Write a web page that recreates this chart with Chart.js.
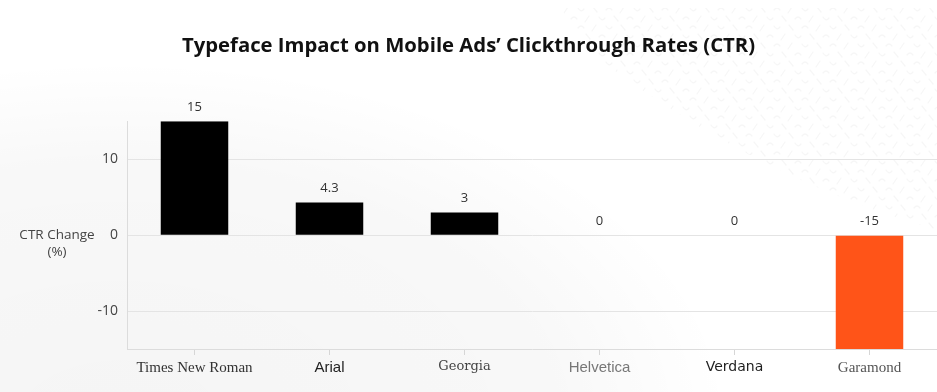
<!DOCTYPE html>
<html>
<head>
<meta charset="utf-8">
<style>
  html, body { margin: 0; padding: 0; background: #ffffff; }
  #wrap { width: 937px; height: 392px; position: relative; }
</style>
<script src="https://cdn.jsdelivr.net/npm/chart.js@4/dist/chart.umd.min.js"></script>
</head>
<body>
<div id="wrap"><canvas id="chart" width="937" height="392"></canvas></div>
<script>
// Typefaces tested and the change in clickthrough rate for each (%)
const typefaces = ['Times New Roman', 'Arial', 'Georgia', 'Helvetica', 'Verdana', 'Garamond'];
const ctrChange = [15, 4.3, 3, 0, 0, -15];
const valueLabels = ['15', '4.3', '3', '0', '0', '-15'];
const yTicks = [-10, 0, 10];

// Each category label is set in (a stand-in for) its own typeface
const labelFonts = [
  { family: '"Liberation Serif", serif', size: 15 },
  { family: '"Liberation Sans", sans-serif', size: 15 },
  { family: '"DejaVu Serif", serif', size: 13 },
  { family: '"Liberation Sans", sans-serif', size: 15 },
  { family: '"DejaVu Sans", sans-serif', size: 14 },
  { family: '"Liberation Serif", serif', size: 15 }
];
const labelColors = ['#333333', '#222222', '#444444', '#777777', '#1e1e1e', '#555555'];

const UI_FONT = '"Open Sans", Lato, sans-serif';

// Soft page decoration: a pale blob at the lower left and a squiggle texture at the top right
const backdrop = {
  id: 'backdrop',
  beforeDraw(chart) {
    const { ctx, width, height } = chart;
    ctx.save();
    ctx.fillStyle = '#ffffff';
    ctx.fillRect(0, 0, width, height);

    ctx.save();
    ctx.translate(120, 420);
    ctx.scale(1.7, 1);
    const g = ctx.createRadialGradient(0, 0, 20, 0, 0, 360);
    g.addColorStop(0, 'rgba(0,0,0,0.04)');
    g.addColorStop(0.7, 'rgba(0,0,0,0.028)');
    g.addColorStop(1, 'rgba(0,0,0,0)');
    ctx.fillStyle = g;
    ctx.fillRect(-400, -400, 800, 800);
    ctx.restore();

    ctx.beginPath();
    ctx.moveTo(560, 8);
    ctx.lineTo(width, 8);
    ctx.lineTo(width, 230);
    ctx.quadraticCurveTo(760, 180, 600, 60);
    ctx.closePath();
    ctx.clip();
    ctx.strokeStyle = 'rgba(0,0,0,0.035)';
    ctx.lineWidth = 1.3;
    ctx.lineCap = 'round';
    let row = 0;
    for (let y = 10; y < 240; y += 9, row++) {
      let col = 0;
      for (let x = 550 + (row % 2) * 7; x < width + 10; x += 14, col++) {
        const k = (row * 3 + col) % 4;
        ctx.beginPath();
        if (k === 0) { ctx.moveTo(x, y); ctx.quadraticCurveTo(x + 3, y - 4, x + 6, y); }
        else if (k === 1) { ctx.moveTo(x, y + 3); ctx.lineTo(x + 4, y - 3); }
        else if (k === 2) { ctx.moveTo(x, y - 2); ctx.quadraticCurveTo(x + 3, y + 3, x + 6, y - 1); }
        else { ctx.moveTo(x + 1, y - 3); ctx.lineTo(x + 5, y + 2); }
        ctx.stroke();
      }
    }
    ctx.restore();
  }
};

// Value printed above each bar, and the horizontal y-axis caption beside the zero line
const annotations = {
  id: 'annotations',
  afterDatasetsDraw(chart) {
    const { ctx } = chart;
    const meta = chart.getDatasetMeta(0);
    ctx.save();
    ctx.font = '13px ' + UI_FONT;
    ctx.fillStyle = '#333333';
    ctx.textAlign = 'center';
    ctx.textBaseline = 'middle';
    meta.data.forEach((bar, i) => {
      const top = Math.min(bar.y, bar.base);
      ctx.fillText(valueLabels[i], bar.x, top - 14);
    });

    const y0 = chart.scales.y.getPixelForValue(0);
    ctx.font = '13.5px ' + UI_FONT;
    ctx.fillStyle = '#444444';
    ctx.fillText('CTR Change', 57, y0);
    ctx.fillText('(%)', 57, y0 + 17);
    ctx.restore();
  }
};

new Chart(document.getElementById('chart'), {
  type: 'bar',
  data: {
    labels: typefaces,
    datasets: [{
      data: ctrChange,
      backgroundColor: ctrChange.map(v => v < 0 ? '#ff5418' : '#000000'),
      barPercentage: 0.5,
      categoryPercentage: 1.0
    }]
  },
  options: {
    responsive: false,
    animation: false,
    layout: { padding: { left: 0, right: 0, top: 0, bottom: 0 } },
    plugins: {
      legend: { display: false },
      tooltip: { enabled: false },
      title: {
        display: true,
        text: 'Typeface Impact on Mobile Ads’ Clickthrough Rates (CTR)',
        color: '#111111',
        font: { family: '"Open Sans", sans-serif', size: 20.3, weight: 'bold', lineHeight: 1.2 },
        padding: { top: 34, bottom: 63 }
      }
    },
    scales: {
      x: {
        grid: { display: true, offset: false, drawOnChartArea: false, drawTicks: true, tickLength: 6, color: '#d6d6d6' },
        border: { display: true, color: '#dcdcdc', width: 1 },
        ticks: {
          padding: 4,
          maxRotation: 0,
          autoSkip: false,
          color: ctx => labelColors[ctx.index],
          font: ctx => labelFonts[ctx.index]
        },
        afterFit(scale) { scale.height = 43; }
      },
      y: {
        min: -15,
        max: 15,
        afterBuildTicks(scale) { scale.ticks = yTicks.map(v => ({ value: v })); },
        grid: { color: '#e4e4e4', drawTicks: false },
        border: { display: true, color: '#dcdcdc', width: 1 },
        ticks: { padding: 9, color: '#444444', font: { family: UI_FONT, size: 14 } },
        afterFit(scale) { scale.width = 127; }
      }
    }
  },
  plugins: [backdrop, annotations]
});
</script>
</body>
</html>
